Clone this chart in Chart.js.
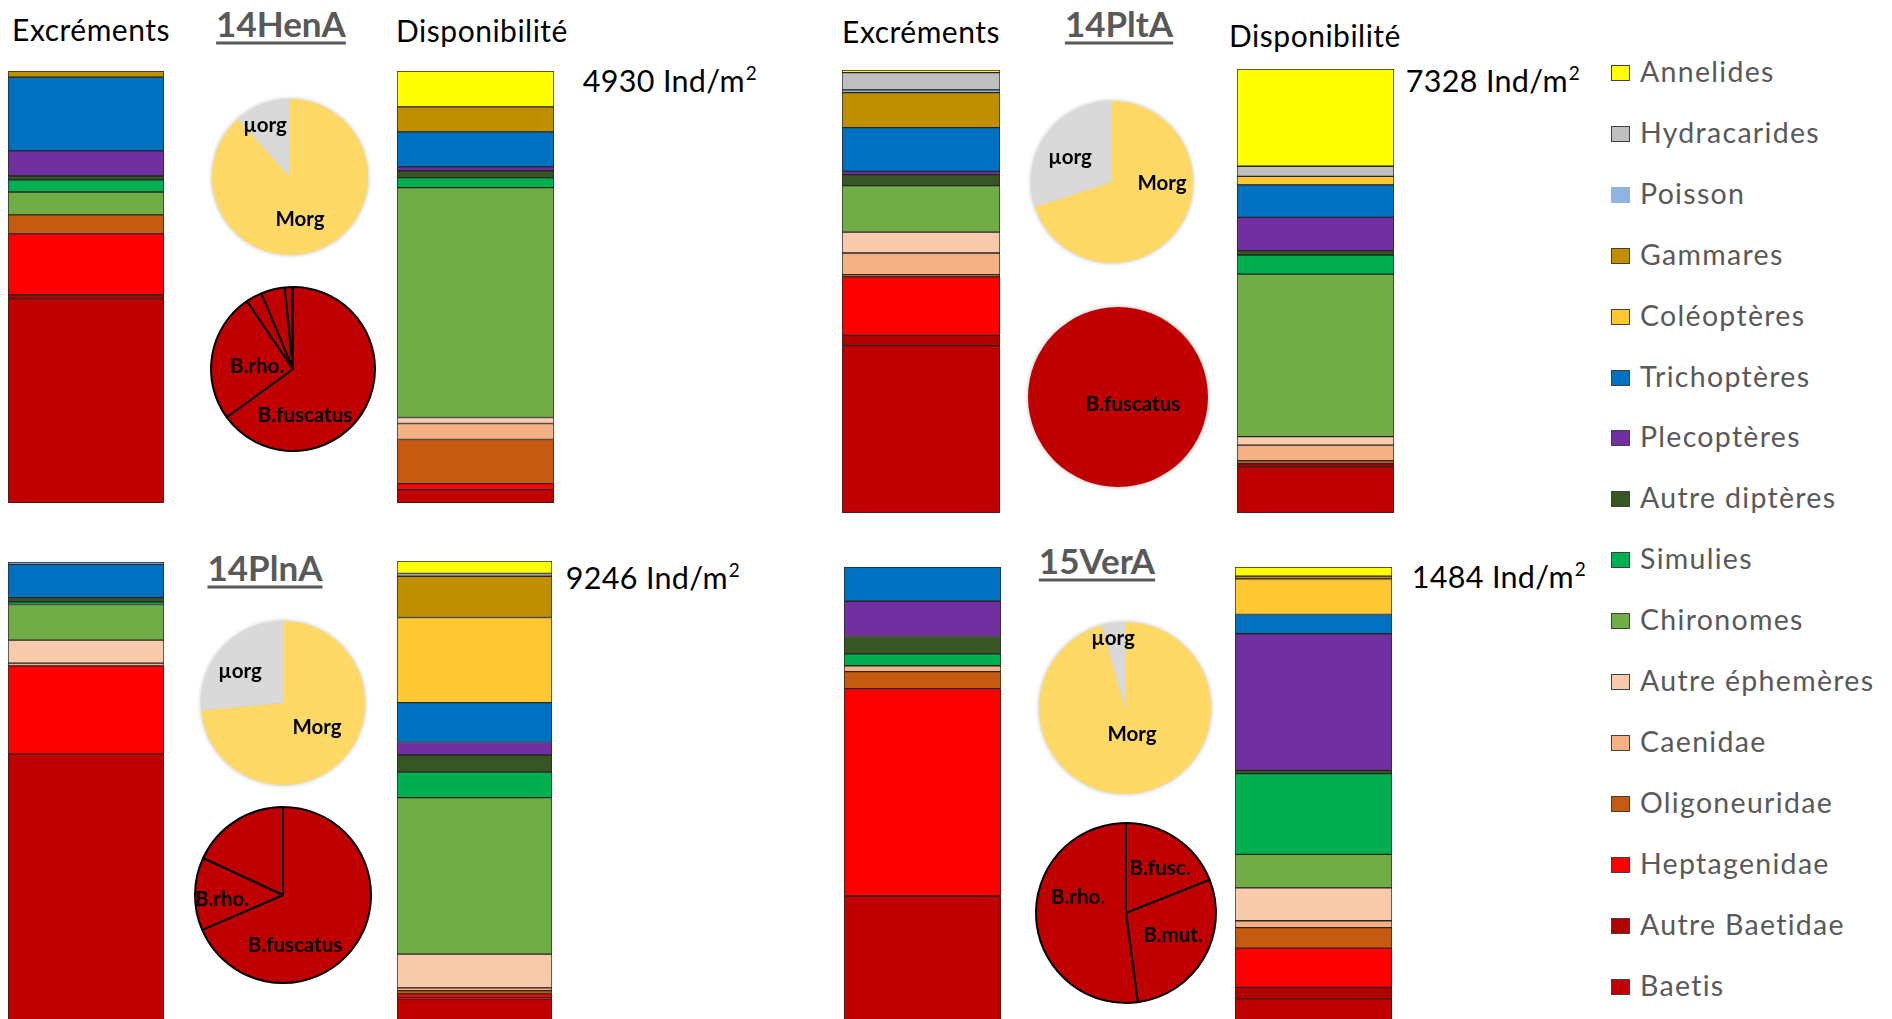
<!DOCTYPE html>
<html>
<head>
<meta charset="utf-8">
<script src="https://cdn.jsdelivr.net/npm/chart.js@4/dist/chart.umd.min.js"></script>
<style>
  html, body { margin: 0; padding: 0; background: #fff; }
  body { width: 1892px; height: 1019px; overflow: hidden; position: relative; font-family: Lato, "Open Sans", sans-serif; }
  .abs { position: absolute; }
  .t { position: absolute; white-space: nowrap; transform: translate(-50%, -50%); line-height: 1; }
  .head { font-size: 30px; letter-spacing: 0.5px; color: #000; }
  .title { font-size: 35px; font-weight: bold; color: #595959; text-decoration: underline; text-decoration-thickness: 3px; text-underline-offset: 5px; }
  .dens { font-size: 30.5px; letter-spacing: 0.3px; color: #000; }
  .dens sup { font-size: 19px; vertical-align: 0; position: relative; top: -12px; margin-left: 1px; }
  .soft { filter: drop-shadow(0 0 2px rgba(0,0,0,0.28)); }
  #legend { position: absolute; left: 1611px; top: 0; }
  .li { position: absolute; left: 0; white-space: nowrap; height: 20px; }
  .sw { position: absolute; left: 0; top: 2px; width: 17px; height: 14px; border: 1px solid #404040; }
  .lt { position: absolute; left: 29px; top: -6px; font-size: 28.5px; color: #595959; line-height: 1; letter-spacing: 1.3px; }
</style>
</head>
<body>

<!-- headings -->
<div class="t head" style="left:91px;top:29px">Excréments</div>
<div class="t title" style="left:281px;top:23px">14HenA</div>
<div class="t head" style="left:482px;top:30px">Disponibilité</div>
<div class="t dens" style="left:670px;top:80px">4930 Ind/m<sup>2</sup></div>

<div class="t head" style="left:921px;top:31px">Excréments</div>
<div class="t title" style="left:1119px;top:23px">14PltA</div>
<div class="t head" style="left:1315px;top:35px">Disponibilité</div>
<div class="t dens" style="left:1493px;top:80px">7328 Ind/m<sup>2</sup></div>

<div class="t title" style="left:265px;top:567px">14PlnA</div>
<div class="t dens" style="left:653px;top:577px">9246 Ind/m<sup>2</sup></div>

<div class="t title" style="left:1097px;top:560px">15VerA</div>
<div class="t dens" style="left:1499px;top:576px">1484 Ind/m<sup>2</sup></div>

<div id="legend"></div>

<script>
// Taxa, listed from the top of each stacked column to its bottom
const categories = ['Annelides', 'Hydracarides', 'Poisson', 'Gammares', 'Coléoptères', 'Trichoptères',
  'Plecoptères', 'Autre diptères', 'Simulies', 'Chironomes', 'Autre éphemères', 'Caenidae',
  'Oligoneuridae', 'Heptagenidae', 'Autre Baetidae', 'Baetis'];
const taxonColors = ['#FFFF00', '#BFBFBF', '#8DB4E2', '#BF8F00', '#FFC832', '#0070C0',
  '#7030A0', '#375623', '#00B050', '#70AD47', '#F8CBAD', '#F4B183',
  '#C55A11', '#FF0000', '#B00000', '#C00000'];

// Relative composition (%) of each column, in the order of `categories`
const henExcrements = [0, 0, 0, 1.4, 0, 17.1, 5.8, 0.9, 2.8, 5.3, 0, 0, 4.4, 14.1, 0.9, 47.3];
const henDispo      = [8.3, 0, 0, 5.8, 0, 8.1, 0.9, 1.6, 2.3, 53.2, 1.4, 3.7, 10.2, 1.4, 0, 3.1];
const pltExcrements = [0.6, 3.9, 0.6, 7.9, 0, 9.9, 0.7, 2.5, 0, 10.5, 4.7, 4.9, 0.5, 13.2, 2.3, 37.8];
const pltDispo      = [21.9, 2.3, 0, 0, 1.9, 7.3, 7.5, 1.0, 4.3, 36.6, 1.9, 3.5, 0.7, 0, 0.7, 10.4];
const plnExcrements = [0, 0, 0.5, 0, 0, 7.2, 0, 0.9, 0.6, 7.7, 5.0, 0.6, 0, 19.1, 0, 58.4];
const plnDispo      = [2.7, 0.6, 0, 8.9, 18.4, 8.6, 2.7, 3.7, 5.5, 33.8, 7.3, 0.6, 0.7, 0.8, 0.3, 5.4];
const verExcrements = [0, 0, 0, 0, 0, 7.5, 7.7, 3.8, 2.6, 0, 0, 1.3, 3.7, 45.4, 0, 28.0];
const verDispo      = [2.0, 0, 0, 0.6, 7.8, 4.2, 29.9, 0.7, 17.7, 7.3, 7.2, 1.5, 4.5, 8.6, 2.5, 5.5];

// Macro- vs micro-organism share of the diet (%)
const orgLabels = ['Morg', 'µorg'];
const orgColors = ['#FFD966', '#D9D9D9'];
const henOrg = [88.3, 11.7];
const pltOrg = [70.0, 30.0];
const plnOrg = [73.6, 26.4];
const verOrg = [95.6, 4.4];

// Baetis species split (%), clockwise from 12 o'clock
const henBaetisLabels = ['B.fuscatus', 'B.rho.', '', '', '', ''];
const henBaetis = [65.0, 25.5, 3.2, 4.7, 1.4, 0.2];
const pltBaetisLabels = ['B.fuscatus'];
const pltBaetis = [100];
const plnBaetisLabels = ['B.fuscatus', 'B.rho.', ''];
const plnBaetis = [68.5, 13.4, 18.1];
const verBaetisLabels = ['B.fusc.', 'B.mut.', 'B.rho.'];
const verBaetis = [19.0, 28.9, 52.1];

Chart.defaults.font.family = 'Lato, "Open Sans", sans-serif';

function makeCanvas(left, top, w, h, cls) {
  const c = document.createElement('canvas');
  c.width = w; c.height = h;
  c.style.width = w + 'px'; c.style.height = h + 'px';
  c.style.left = left + 'px'; c.style.top = top + 'px';
  c.className = 'abs' + (cls ? ' ' + cls : '');
  document.body.appendChild(c);
  return c;
}

// One stacked column; the first dataset sits at the bottom, so taxa are added bottom-up
function stackedColumn(values, left, top, w, h) {
  const ctx = makeCanvas(left, top, w, h);
  const datasets = categories.map((name, i) => ({
    label: name,
    data: [values[i] > 0 ? values[i] : null],
    backgroundColor: taxonColors[i],
    borderColor: '#262626',
    borderWidth: 1,
    borderSkipped: false,
    barPercentage: 1,
    categoryPercentage: 1
  })).reverse();
  return new Chart(ctx, {
    type: 'bar',
    data: { labels: [''], datasets },
    options: {
      responsive: false, animation: false, devicePixelRatio: 1,
      layout: { padding: 0 },
      plugins: { legend: { display: false }, tooltip: { enabled: false } },
      scales: {
        x: { stacked: true, display: false },
        y: { stacked: true, display: false, min: 0, max: 100 }
      }
    }
  });
}

// Pie with its slice names drawn at given offsets from the centre
const sliceNames = {
  id: 'sliceNames',
  afterDatasetsDraw(chart, args, opts) {
    const meta = chart.getDatasetMeta(0);
    if (!meta.data.length) return;
    const { x, y } = meta.data[0];
    const ctx = chart.ctx;
    ctx.save();
    ctx.font = 'bold 20.5px Lato, "Open Sans", sans-serif';
    ctx.fillStyle = '#000';
    ctx.textAlign = 'center';
    ctx.textBaseline = 'middle';
    (opts.spots || []).forEach(([idx, dx, dy]) => {
      ctx.fillText(chart.data.labels[idx], x + dx, y + dy);
    });
    ctx.restore();
  }
};

function pie(labels, values, colors, cx, cy, r, border, spots, cls) {
  const pad = 4;
  const size = 2 * r + border + 2 * pad;
  const ctx = makeCanvas(cx - size / 2, cy - size / 2, size, size, cls);
  return new Chart(ctx, {
    type: 'pie',
    data: { labels, datasets: [{ data: values, backgroundColor: colors, borderColor: '#000', borderWidth: border }] },
    options: {
      responsive: false, animation: false, devicePixelRatio: 1,
      layout: { padding: pad },
      plugins: { legend: { display: false }, tooltip: { enabled: false }, sliceNames: { spots } }
    },
    plugins: [sliceNames]
  });
}

const red = '#C00000';

// 14HenA
stackedColumn(henExcrements, 8, 71, 156, 432);
stackedColumn(henDispo, 397, 71, 157, 432);
pie(orgLabels, henOrg, orgColors, 290, 177, 78, 0, [[1, -25, -52], [0, 10, 42]], 'soft');
pie(henBaetisLabels, henBaetis, henBaetisLabels.map(() => red), 293, 369, 82, 2, [[1, -36, -3], [0, 12, 46]]);

// 14PltA
stackedColumn(pltExcrements, 842, 70, 158, 443);
stackedColumn(pltDispo, 1237, 69, 157, 444);
pie(orgLabels, pltOrg, orgColors, 1112, 182, 81, 0, [[1, -42, -25], [0, 50, 1]], 'soft');
pie(pltBaetisLabels, pltBaetis, [red], 1118, 397, 90, 0, [[0, 15, 7]], 'soft');

// 14PlnA
stackedColumn(plnExcrements, 8, 562, 156, 462);
stackedColumn(plnDispo, 397, 561, 155, 463);
pie(orgLabels, plnOrg, orgColors, 283, 703, 82, 0, [[1, -43, -32], [0, 34, 24]], 'soft');
pie(plnBaetisLabels, plnBaetis, plnBaetisLabels.map(() => red), 283, 895, 88, 2, [[1, -61, 4], [0, 12, 50]]);

// 15VerA
stackedColumn(verExcrements, 844, 567, 157, 457);
stackedColumn(verDispo, 1235, 567, 157, 457);
pie(orgLabels, verOrg, orgColors, 1125, 708, 86, 0, [[1, -12, -70], [0, 7, 26]], 'soft');
pie(verBaetisLabels, verBaetis, verBaetisLabels.map(() => red), 1126, 913, 90, 2, [[0, 34, -45], [1, 47, 22], [2, -48, -16]]);

// Legend, one row per taxon
const legend = document.getElementById('legend');
categories.forEach((name, i) => {
  const row = document.createElement('div');
  row.className = 'li';
  row.style.top = (63 + i * 60.9) + 'px';
  const sw = document.createElement('div');
  sw.className = 'sw';
  sw.style.background = taxonColors[i];
  if (name === 'Poisson') sw.style.borderColor = taxonColors[i];
  const tx = document.createElement('div');
  tx.className = 'lt';
  tx.textContent = name;
  row.appendChild(sw); row.appendChild(tx);
  legend.appendChild(row);
});
</script>
</body>
</html>
